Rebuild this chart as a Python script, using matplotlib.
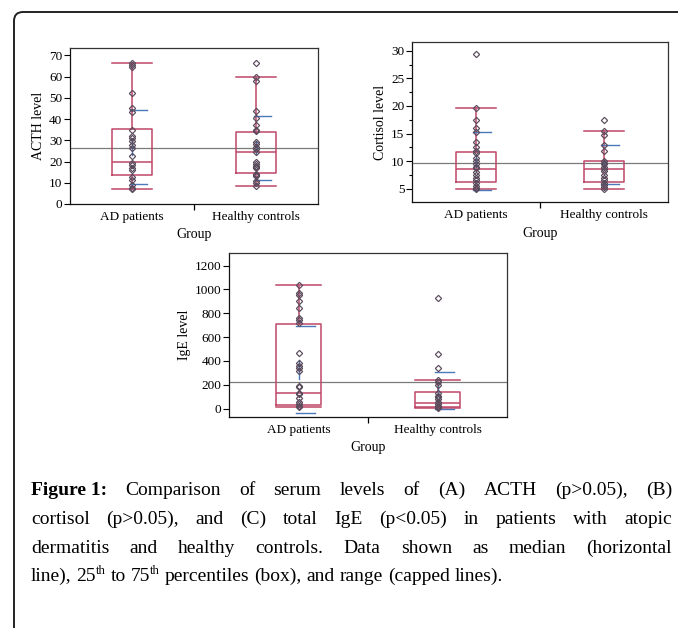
"""Figure 1: serum ACTH, cortisol and IgE, AD patients vs healthy controls."""
import matplotlib
matplotlib.use('Agg')
import matplotlib.pyplot as plt
from matplotlib.patches import FancyBboxPatch
from matplotlib.ticker import MultipleLocator
import numpy as np

plt.rcParams['font.family'] = ['Liberation Serif', 'DejaVu Serif']

groups = ['AD patients', 'Healthy controls']

# ACTH (panel A)
acth_ad = [66.5, 65.5, 64.5, 52.5, 45, 43.5, 35, 32, 31, 29.5, 28, 26.5, 22.5,
           19.5, 18.5, 17, 16, 12.5, 11.5, 9, 7.5, 7]
acth_hc = [66.5, 60, 58, 44, 40.5, 37, 35, 34.5, 29, 28.5, 27, 26, 24.5, 20, 19,
           18, 17.5, 17, 14, 13.5, 13, 11, 10, 8.5]
acth_q1 = [13.5, 14.5]
acth_med = [20, 24.5]
acth_q3 = [35.5, 34]
acth_lo = [7, 8.5]
acth_hi = [66.5, 60]
acth_mean = [27, 26.5]
acth_sd = [17.5, 15]
acth_grand = 26.3

# Cortisol (panel B)
cort_ad = [29.4, 19.7, 17.5, 16, 15.3, 13.5, 12.5, 11.8, 11.4, 10.5, 10, 9.5, 9,
           8.7, 8, 7.5, 7, 6.6, 6, 5.5, 5.2, 5.0]
cort_hc = [17.4, 15.5, 14.8, 13, 11.8, 10, 9.7, 9.4, 9, 8.6, 8.2, 7.5, 7, 6.5, 6,
           5.7, 5.4, 5.0]
cort_q1 = [6.3, 6.3]
cort_med = [8.6, 8.6]
cort_q3 = [11.7, 10.1]
cort_lo = [5.0, 5.0]
cort_hi = [19.7, 15.5]
cort_mean = [10.0, 9.4]
cort_sd = [5.3, 3.6]
cort_grand = 9.7

# IgE (panel C)
ige_ad = [1035, 970, 950, 900, 845, 760, 740, 720, 470, 380, 360, 340, 320, 190,
          185, 130, 120, 90, 60, 40, 20, 10]
ige_hc = [925, 455, 340, 240, 220, 200, 130, 110, 100, 80, 60, 40, 20, 10, 5]
ige_q1 = [30, 15]
ige_med = [130, 45]
ige_q3 = [710, 140]
ige_lo = [10, 5]
ige_hi = [1035, 240]
ige_mean = [330, 150]
ige_sd = [365, 155]
ige_grand = 225

BOX_COL = '#c04868'
PT_COL = '#594a5c'
MEAN_COL = '#4a78b8'

fig = plt.figure(figsize=(6.78, 6.28), dpi=100)
W, H = 678, 628


def px_axes(left, top, right, bottom):
    return fig.add_axes([left / W, 1 - bottom / H, (right - left) / W, (bottom - top) / H])


def panel(ax, pts, q1, med, q3, lo, hi, mean, sd, grand, ylim, major, minor, ylabel):
    stats = []
    for i in range(2):
        stats.append(dict(q1=q1[i], med=med[i], q3=q3[i], whislo=lo[i], whishi=hi[i], fliers=[]))
    lp = dict(color=BOX_COL, linewidth=1.1)
    ax.bxp(stats, positions=[0, 1], widths=0.32, showfliers=False,
           boxprops=lp, medianprops=lp, whiskerprops=lp, capprops=lp, capwidths=0.32)
    # group mean +/- SD marks
    for i in range(2):
        ax.plot([i - 0.02, i + 0.12], [mean[i] + sd[i]] * 2, color=MEAN_COL, lw=1)
        ax.plot([i - 0.02, i + 0.12], [mean[i] - sd[i]] * 2, color=MEAN_COL, lw=1)
        se = sd[i] / np.sqrt(len(pts[i]))
        ax.plot([i, i], [mean[i] - se, mean[i] + se], color=MEAN_COL, lw=1)
    for i in range(2):
        ax.plot([i] * len(pts[i]), pts[i], linestyle='none', marker='D', ms=3.2,
                mfc='none', mec=PT_COL, mew=0.85, zorder=4)
    ax.axhline(grand, color='#7a7a7a', lw=0.9, zorder=1)
    ax.set_xlim(-0.5, 1.5)
    ax.set_ylim(*ylim)
    ax.yaxis.set_major_locator(MultipleLocator(major))
    if minor:
        ax.yaxis.set_minor_locator(MultipleLocator(minor))
    ax.tick_params(axis='y', which='major', length=4.5, width=0.8, labelsize=9.5, pad=1)
    ax.tick_params(axis='y', which='minor', length=2.5, width=0.8)
    ax.set_xticks([0, 1], groups)
    ax.set_xticks([0.5], minor=True)
    ax.tick_params(axis='x', which='major', length=0, labelsize=9.5, pad=5)
    ax.tick_params(axis='x', which='minor', length=4, width=0.9)
    for s in ax.spines.values():
        s.set_linewidth(0.9)
        s.set_color('#333333')
    ax.spines['left'].set_color('#111111')
    ax.spines['bottom'].set_color('#111111')
    ax.set_ylabel(ylabel, fontsize=10, labelpad=3)
    ax.set_xlabel('Group', fontsize=10, labelpad=4)


ax_a = px_axes(70, 48, 318, 204)
panel(ax_a, [acth_ad, acth_hc], acth_q1, acth_med, acth_q3, acth_lo, acth_hi,
      acth_mean, acth_sd, acth_grand, (0, 73.5), 10, None, 'ACTH level')

ax_b = px_axes(412, 42, 668, 202)
panel(ax_b, [cort_ad, cort_hc], cort_q1, cort_med, cort_q3, cort_lo, cort_hi,
      cort_mean, cort_sd, cort_grand, (2.6, 31.6), 5, 2.5, 'Cortisol level')

ax_c = px_axes(229, 253, 507, 417)
panel(ax_c, [ige_ad, ige_hc], ige_q1, ige_med, ige_q3, ige_lo, ige_hi,
      ige_mean, ige_sd, ige_grand, (-70, 1306), 200, None, 'IgE level')

# outer frame (only top and left edges fall inside the image)
frame = FancyBboxPatch((0.14, -0.5), 7.0, 6.16 + 0.5,
                       boxstyle='round,pad=0,rounding_size=0.09',
                       transform=fig.dpi_scale_trans, fill=False, lw=1.4, ec='#222222')
fig.add_artist(frame)

# caption, justified like the source page
cap_lines = [
    [[('Figure 1:', 'bold')], [('Comparison', 'n')], [('of', 'n')], [('serum', 'n')],
     [('levels', 'n')], [('of', 'n')], [('(A)', 'n')], [('ACTH', 'n')],
     [('(p>0.05),', 'n')], [('(B)', 'n')]],
    [[(w, 'n')] for w in 'cortisol (p>0.05), and (C) total IgE (p<0.05) in patients with atopic'.split()],
    [[(w, 'n')] for w in 'dermatitis and healthy controls. Data shown as median (horizontal'.split()],
    [[('line),', 'n')], [('25', 'n'), ('th', 'sup')], [('to', 'n')], [('75', 'n'), ('th', 'sup')],
     [('percentiles', 'n')], [('(box),', 'n')], [('and', 'n')], [('range', 'n')],
     [('(capped', 'n')], [('lines).', 'n')]],
]
cap_left, cap_right = 31, 672
cap_base = [495, 524, 553, 581]
FS = 14


def style_kw(st):
    if st == 'bold':
        return dict(fontsize=FS, fontweight='bold')
    if st == 'sup':
        return dict(fontsize=FS * 0.66)
    return dict(fontsize=FS)


renderer = fig.canvas.get_renderer()


def width(s, st):
    t = fig.text(0, 0, s, **style_kw(st))
    w = t.get_window_extent(renderer).width
    t.remove()
    return w


space = width('a b', 'n') - width('ab', 'n')
for li, words in enumerate(cap_lines):
    wws = [sum(width(s, st) for s, st in wd) for wd in words]
    if li < len(cap_lines) - 1:
        gap = max(space * 0.8, (cap_right - cap_left - sum(wws)) / (len(words) - 1))
    else:
        gap = space
    x = cap_left
    y = cap_base[li]
    for wd, ww in zip(words, wws):
        xx = x
        for s, st in wd:
            yy = y - 7 if st == 'sup' else y
            fig.text(xx / W, 1 - yy / H, s, va='baseline', ha='left', **style_kw(st))
            xx += width(s, st)
        x += ww + gap

fig.savefig('out.png', dpi=100)
